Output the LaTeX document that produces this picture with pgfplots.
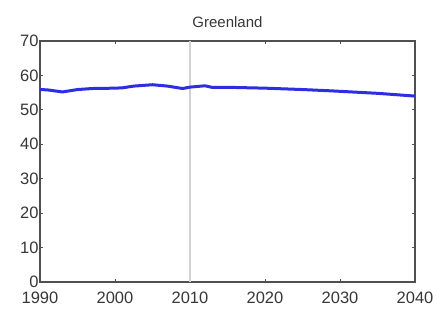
\documentclass[border=0pt]{standalone}
\usepackage{pgfplots}
\pgfplotsset{compat=1.18}
\usepackage{fontspec}
\setmainfont{Liberation Sans}
\definecolor{lineblue}{RGB}{45,45,225}
\definecolor{frame}{RGB}{80,80,80}
\definecolor{txt}{RGB}{55,55,55}
\begin{document}
\begin{tikzpicture}
\useasboundingbox (-40pt,-28pt) rectangle (398pt,282pt);
\begin{axis}[
  at={(0pt,0pt)}, anchor=south west,
  scale only axis, width=375pt, height=241pt,
  xmin=1990, xmax=2040, ymin=0, ymax=70,
  xtick={1990,2000,...,2040}, ytick={0,10,...,70},
  /pgf/number format/1000 sep={},
  /pgf/number format/assume math mode=true,
  tick label style={font=\fontsize{16.5}{18}\selectfont, text=txt},
  tick align=inside, major tick length=3pt,
  tick style={frame, line width=0.8pt},
  axis line style={frame, line width=1.6pt},
  title={Greenland}, title style={font=\fontsize{15}{17}\selectfont, text=txt, yshift=4pt},
  xticklabel style={yshift=-9.5pt, inner ysep=0pt},
  yticklabel style={xshift=2pt, yshift=0pt, inner ysep=0pt},
]
\addplot[gray!35, line width=1.5pt, forget plot] coordinates {(2010,0) (2010,70)};
\addplot[lineblue, line width=3pt, line join=round] coordinates {
(1990,55.9) (1991,55.8) (1993,55.2) (1995,55.9) (1997,56.2) (2000,56.3) (2001,56.4)
(2002.5,56.9) (2005,57.3) (2007,56.9) (2009,56.2) (2010,56.6) (2012,57.0) (2013,56.5)
(2016,56.5) (2020,56.3) (2025,55.9) (2029,55.5) (2035,54.8) (2040,54.0)};
\end{axis}
\end{tikzpicture}
\end{document}
